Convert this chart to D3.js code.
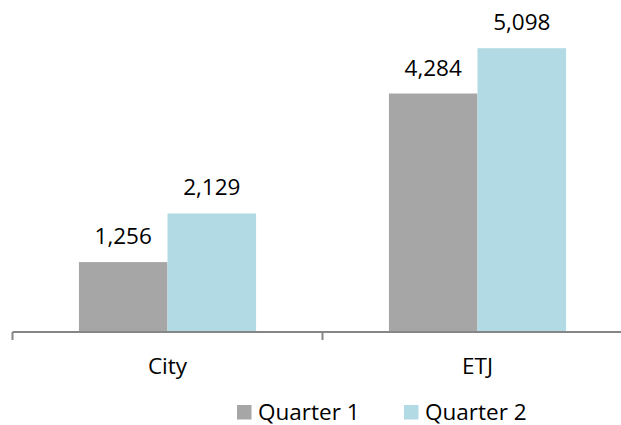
<!DOCTYPE html>
<html>
<head>
<meta charset="utf-8">
<script src="https://cdn.jsdelivr.net/npm/d3@7"></script>
<style>
  body { margin: 0; background: #fff; }
  svg text { font-family: "Open Sans", sans-serif; fill: #000; }
</style>
</head>
<body>
<div id="app"></div>
<script>
const categories = ['City', 'ETJ'];
const seriesNames = ['Quarter 1', 'Quarter 2'];
const quarter1 = [1256, 4284];
const quarter2 = [2129, 5098];
const colors = ['#a6a6a6', '#b1dae4'];

const width = 621;
const height = 425;
const fontSize = 22.5;

const svg = d3.select('#app').append('svg')
  .attr('width', width)
  .attr('height', height);

const x = d3.scaleBand()
  .domain(categories)
  .range([12.5, 632.5])
  .paddingInner(0)
  .paddingOuter(0);

const xInner = d3.scaleBand()
  .domain(seriesNames)
  .range([0, x.bandwidth()])
  .paddingOuter(0.75)
  .paddingInner(0);

const y = d3.scaleLinear()
  .domain([0, 6000])
  .range([332, -2]);

const rows = categories.map((c, i) => ({
  category: c,
  values: [quarter1[i], quarter2[i]]
}));

const groups = svg.append('g')
  .selectAll('g')
  .data(rows)
  .enter().append('g')
  .attr('transform', d => `translate(${x(d.category)},0)`);

groups.selectAll('rect')
  .data(d => d.values.map((v, i) => ({ name: seriesNames[i], value: v, i })))
  .enter().append('rect')
  .attr('x', d => xInner(d.name))
  .attr('width', xInner.bandwidth())
  .attr('y', d => y(d.value))
  .attr('height', d => y(0) - y(d.value))
  .attr('fill', d => colors[d.i]);

// Value labels
groups.selectAll('text.value')
  .data(d => d.values.map((v, i) => ({ name: seriesNames[i], value: v })))
  .enter().append('text')
  .attr('class', 'value')
  .attr('x', d => xInner(d.name) + xInner.bandwidth() / 2)
  .attr('y', d => y(d.value) - 18)
  .attr('text-anchor', 'middle')
  .style('font-size', fontSize + 'px')
  .text(d => d3.format(',')(d.value));

// Axis
const axis = svg.append('g')
  .attr('transform', `translate(0,${y(0)})`)
  .call(d3.axisBottom(x).tickSize(0).tickPadding(26));

axis.select('.domain')
  .attr('stroke', '#868686')
  .attr('stroke-width', 2)
  .attr('d', `M${x.range()[0]},0H${x.range()[1]}`);

axis.selectAll('.tick text')
  .style('font-size', fontSize + 'px')
  .style('font-family', '"Open Sans", sans-serif')
  .attr('fill', '#000');

const boundaries = categories.map(c => x(c)).concat([x.range()[1]]);
axis.selectAll('line.sep')
  .data(boundaries)
  .enter().append('line')
  .attr('class', 'sep')
  .attr('x1', d => d).attr('x2', d => d)
  .attr('y1', 0).attr('y2', 8)
  .attr('stroke', '#868686')
  .attr('stroke-width', 2);

// Legend
const legendX = [237, 404];
const legend = svg.append('g')
  .selectAll('g')
  .data(seriesNames)
  .enter().append('g')
  .attr('transform', (d, i) => `translate(${legendX[i]},405)`);

legend.append('rect')
  .attr('width', 14.5)
  .attr('height', 14.5)
  .attr('fill', (d, i) => colors[i]);

legend.append('text')
  .attr('x', 21)
  .attr('y', 14.5)
  .style('font-size', fontSize + 'px')
  .text(d => d);
</script>
</body>
</html>
